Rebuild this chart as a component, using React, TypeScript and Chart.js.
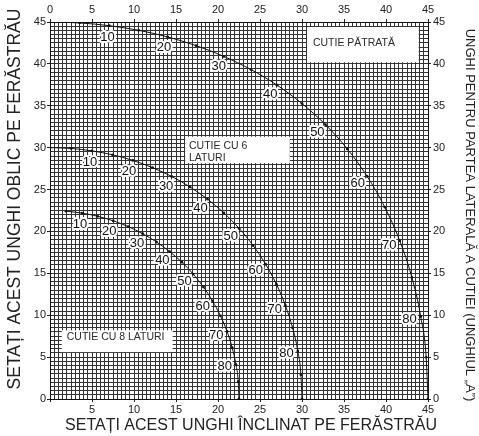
import React, { useEffect, useRef } from 'react';
import { Chart, registerables } from 'chart.js';

Chart.register(...registerables);

// Angle A of the box side (degrees), one point every 5 degrees
const angleSteps = [0, 5, 10, 15, 20, 25, 30, 35, 40, 45, 50, 55, 60, 65, 70, 75, 80, 85, 90];
const octAngleSteps = [5, 10, 15, 20, 25, 30, 35, 40, 45, 50, 55, 60, 65, 70, 75, 80, 85, 90];

// Square box (CUTIE PĂTRATĂ): x = blade tilt, y = miter
const squareTilt = [0, 3.53, 7.05, 10.55, 14.0, 17.39, 20.7, 23.93, 27.03, 30.0, 32.8, 35.4, 37.76, 39.85, 41.64, 43.08, 44.13, 44.78, 45];
const squareMiter = [45, 44.89, 44.56, 44.01, 43.22, 42.18, 40.89, 39.32, 37.46, 35.26, 32.74, 29.84, 26.57, 22.91, 18.88, 14.51, 9.85, 4.98, 0];

// 6-sided box
const hexTilt = [0, 2.5, 4.98, 7.44, 9.85, 12.2, 14.48, 16.67, 18.75, 20.7, 22.52, 24.18, 25.66, 26.95, 28.02, 28.88, 29.5, 29.87, 30];
const hexMiter = [30, 29.91, 29.62, 29.15, 28.48, 27.62, 26.57, 25.31, 23.86, 22.21, 20.36, 18.32, 16.1, 13.71, 11.17, 8.5, 5.73, 2.88, 0];

// 8-sided box
const octTilt = [1.91, 3.81, 5.68, 7.52, 9.31, 11.03, 12.68, 14.24, 15.7, 17.05, 18.27, 19.35, 20.29, 21.08, 21.69, 22.14, 22.41, 22.5];
const octMiter = [22.42, 22.19, 21.81, 21.27, 20.58, 19.73, 18.74, 17.6, 16.33, 14.91, 13.37, 11.7, 9.93, 8.06, 6.12, 4.11, 2.07, 0];

const labeledAngles = [10, 20, 30, 40, 50, 60, 70, 80];

const xTitle = 'SETAȚI ACEST UNGHI ÎNCLINAT PE FERĂSTRĂU';
const yTitle = 'SETAȚI ACEST UNGHI OBLIC PE FERĂSTRĂU';
const y2Title = 'UNGHI PENTRU PARTEA LATERALĂ A CUTIEI (UNGHIUL „A”)';

// Note boxes: [x0, x1, y0, y1] in data units, with their text lines
const noteBoxes = [
  { box: [30.6, 43.9, 40.2, 44.4], textX: 31.3, lines: [['CUTIE PĂTRATĂ', 42.46]] },
  { box: [16.1, 28.55, 28.15, 31.3], textX: 16.55, lines: [['CUTIE CU 6', 30.2], ['LATURI', 28.73]] },
  { box: [1.4, 14.6, 5.6, 8.2], textX: 1.99, lines: [['CUTIE CU 8 LATURI', 7.42]] },
];

const FONT = '"Liberation Sans", Arial, Helvetica, sans-serif';

const mk = (xs: number[], ys: number[], as: number[]) =>
  xs.map((x, i) => ({ x, y: ys[i], a: as[i] }));

const isMajor = (v: number) => Math.abs(v / 5 - Math.round(v / 5)) < 1e-6;

const App = () => {
  const ref = useRef<HTMLCanvasElement>(null);

  useEffect(() => {
    const canvas = ref.current;
    if (!canvas) return;

    const curveLabels = {
      id: 'curveLabels',
      beforeDatasetsDraw(chart: any) {
        const { ctx } = chart;
        const xs = chart.scales.x;
        const ys = chart.scales.y;
        ctx.save();
        noteBoxes.forEach((nb) => {
          const [x0, x1, y0, y1] = nb.box;
          const px0 = xs.getPixelForValue(x0);
          const px1 = xs.getPixelForValue(x1);
          const py0 = ys.getPixelForValue(y1);
          const py1 = ys.getPixelForValue(y0);
          ctx.fillStyle = '#ffffff';
          ctx.fillRect(px0, py0, px1 - px0, py1 - py0);
          ctx.fillStyle = '#2a2a2a';
          ctx.font = `10.5px ${FONT}`;
          ctx.textAlign = 'left';
          ctx.textBaseline = 'middle';
          nb.lines.forEach(([t, yv]: any) => {
            ctx.fillText(t, xs.getPixelForValue(nb.textX), ys.getPixelForValue(yv));
          });
        });
        ctx.restore();
      },
      afterDatasetsDraw(chart: any) {
        const { ctx } = chart;
        const xs = chart.scales.x;
        const ys = chart.scales.y;
        const ox = xs.getPixelForValue(0);
        const oy = ys.getPixelForValue(0);
        ctx.save();
        ctx.font = `13px ${FONT}`;
        ctx.textAlign = 'center';
        ctx.textBaseline = 'middle';
        ctx.lineJoin = 'round';
        chart.data.datasets.forEach((ds: any) => {
          ds.data.forEach((p: any) => {
            if (!labeledAngles.includes(p.a)) return;
            const px = xs.getPixelForValue(p.x);
            const py = ys.getPixelForValue(p.y);
            const dx = ox - px;
            const dy = oy - py;
            const len = Math.hypot(dx, dy) || 1;
            const lx = px + (dx / len) * 11.5;
            const ly = py + (dy / len) * 11.5;
            ctx.strokeStyle = '#ffffff';
            ctx.lineWidth = 4;
            ctx.strokeText(String(p.a), lx, ly);
            ctx.fillStyle = '#111111';
            ctx.fillText(String(p.a), lx, ly);
          });
        });
        ctx.restore();

        // axis titles
        ctx.save();
        ctx.fillStyle = '#222222';
        ctx.textAlign = 'center';
        ctx.textBaseline = 'alphabetic';
        ctx.font = `17.5px ${FONT}`;
        ctx.save();
        ctx.translate(19.5, 199);
        ctx.rotate(-Math.PI / 2);
        ctx.fillText(yTitle, 0, 0);
        ctx.restore();

        ctx.font = `16px ${FONT}`;
        ctx.fillText(xTitle, 251, 430);

        ctx.font = `13px ${FONT}`;
        ctx.save();
        ctx.translate(465.5, 215);
        ctx.rotate(Math.PI / 2);
        ctx.fillText(y2Title, 0, 0);
        ctx.restore();
        ctx.restore();
      },
    };

    const tickFont = { family: FONT, size: 11 };
    const tickColor = (c: any) => (c.tick && isMajor(c.tick.value) ? '#222222' : 'rgba(0,0,0,0)');
    const grid = (onArea: boolean) => ({
      display: true,
      drawOnChartArea: onArea,
      drawTicks: true,
      tickLength: 3,
      color: '#333333',
      lineWidth: 1,
      tickColor,
    });
    const border = { display: true, color: '#111111', width: 1 };
    const tickCb = (hideZero: boolean) => (v: any) => {
      const n = Number(v);
      if (!isMajor(n)) return '';
      if (hideZero && n === 0) return '';
      return String(Math.round(n));
    };
    const baseTicks = (hideZero: boolean, padding: number) => ({
      stepSize: 0.5,
      autoSkip: false,
      maxRotation: 0,
      minRotation: 0,
      color: '#222222',
      font: tickFont,
      padding,
      callback: tickCb(hideZero),
    });

    const chart = new Chart(canvas, {
      type: 'line',
      data: {
        datasets: [
          { label: 'square', data: mk(squareTilt, squareMiter, angleSteps) },
          { label: 'hex', data: mk(hexTilt, hexMiter, angleSteps) },
          { label: 'oct', data: mk(octTilt, octMiter, octAngleSteps) },
        ].map((d) => ({
          ...d,
          borderColor: '#111111',
          backgroundColor: '#111111',
          borderWidth: 1,
          pointRadius: 1.4,
          pointBorderWidth: 0,
          pointBackgroundColor: '#111111',
          cubicInterpolationMode: 'monotone' as const,
          fill: false,
        })),
      },
      options: {
        animation: false,
        responsive: false,
        devicePixelRatio: 1,
        layout: { padding: 0 },
        plugins: {
          legend: { display: false },
          tooltip: { enabled: false },
        },
        scales: {
          x: {
            type: 'linear',
            position: 'bottom',
            min: 0,
            max: 45,
            grid: grid(true),
            border,
            ticks: baseTicks(true, 1),
            afterFit: (s: any) => { s.height = 37; },
          },
          x2: {
            type: 'linear',
            position: 'top',
            min: 0,
            max: 45,
            grid: grid(false),
            border,
            ticks: baseTicks(false, 2),
            afterFit: (s: any) => { s.height = 22; },
          },
          y: {
            type: 'linear',
            position: 'left',
            min: 0,
            max: 45,
            grid: grid(true),
            border,
            ticks: baseTicks(false, 1),
            afterFit: (s: any) => { s.width = 50; },
          },
          y2: {
            type: 'linear',
            position: 'right',
            min: 0,
            max: 45,
            grid: grid(false),
            border,
            ticks: baseTicks(false, 2),
            afterFit: (s: any) => { s.width = 51; },
          },
        },
      } as any,
      plugins: [curveLabels],
    });

    return () => chart.destroy();
  }, []);

  return (
    <div style={{ position: 'absolute', left: 0, top: 0, width: 479, height: 436, background: '#ffffff' }}>
      <canvas ref={ref} width={479} height={436} style={{ width: 479, height: 436, display: 'block' }} />
    </div>
  );
};

export default App;
